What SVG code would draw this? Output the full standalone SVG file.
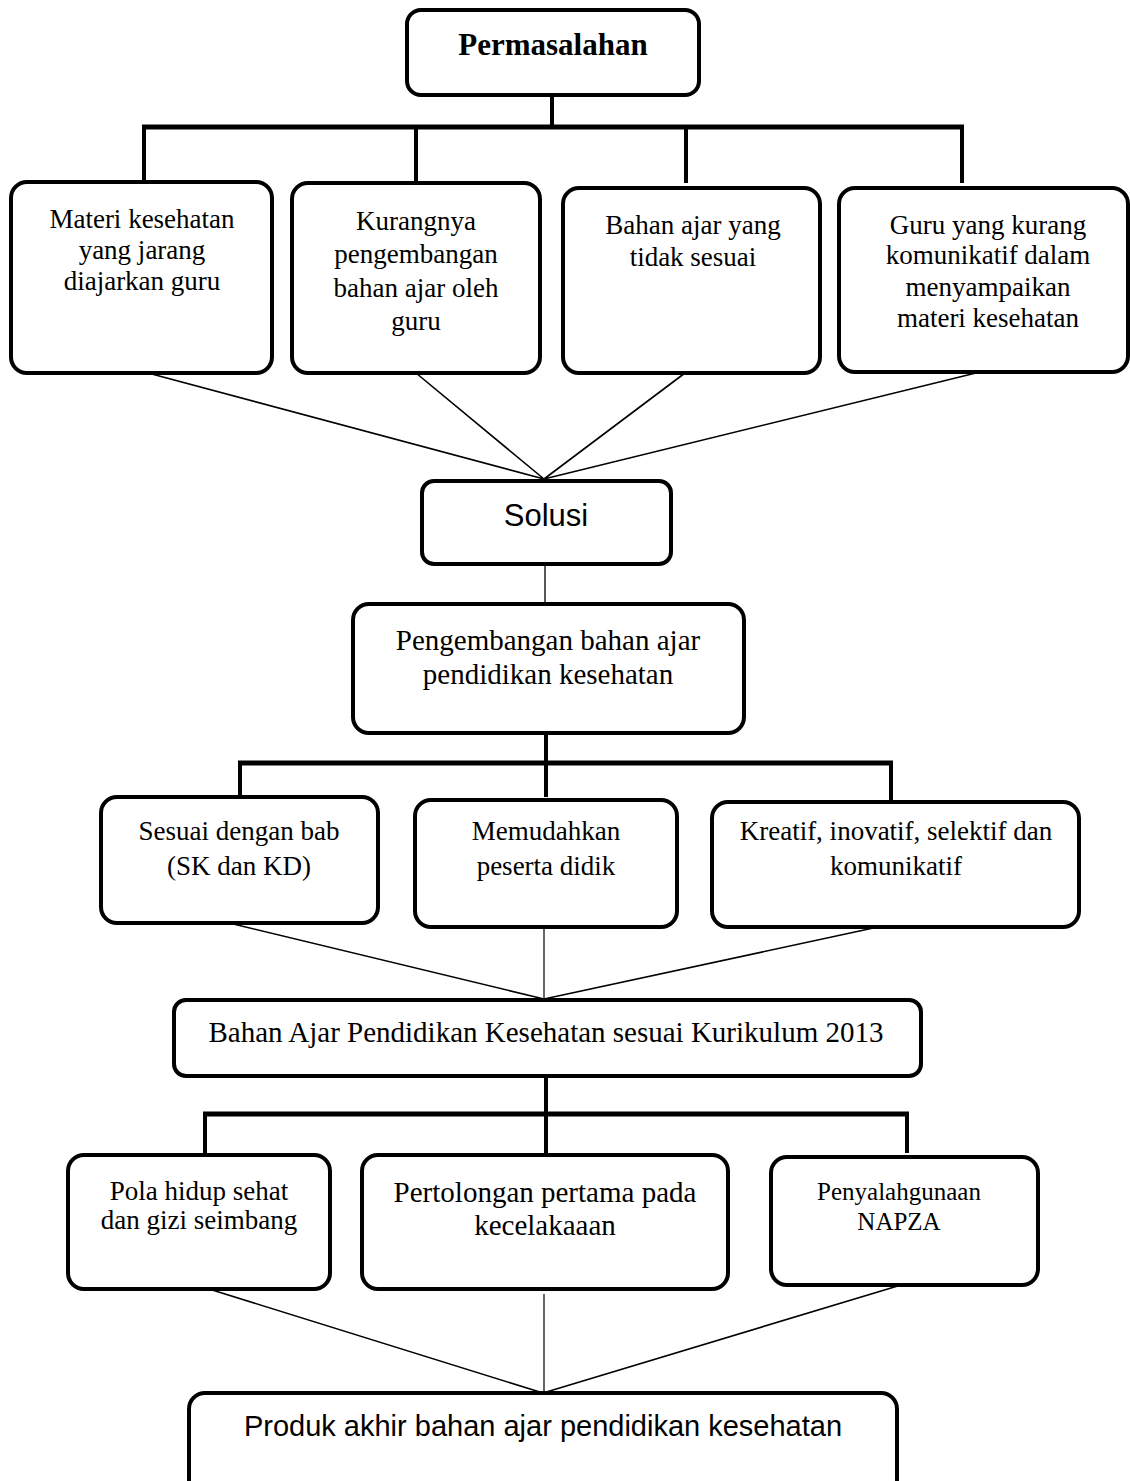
<svg xmlns="http://www.w3.org/2000/svg" width="1130" height="1481" viewBox="0 0 1130 1481">
<style>
.box{fill:#fff;stroke:#000;stroke-width:4}
.t{font-family:"Liberation Serif","Times New Roman",serif;font-size:27px;fill:#000;text-anchor:middle}
.t29{font-size:29px}
.t25{font-size:25px}
.a{font-family:"Liberation Sans",Arial,sans-serif;font-size:29px;fill:#000;text-anchor:middle}
.bar{stroke:#000;stroke-width:5;fill:none}
.drop{stroke:#000;stroke-width:4;fill:none}
.thin{stroke:#000;stroke-width:1.6;fill:none}
</style>
<rect width="1130" height="1481" fill="#fff"/>
<g id="connectors">
<path class="drop" d="M552 95V127M144 127V182M416 127V183M686 127V183M962 127V183"/>
<path class="bar" d="M142 127H964"/>
<path class="thin" d="M148 373L544 479M416 373L544 479M685 373L544 479M980 372L544 479"/>
<path class="thin" d="M545 564V604" style="stroke-width:1.3"/>
<path class="drop" d="M546 733V763M240 763V802M546 763V797M891 763V806"/>
<path class="bar" d="M238 763H893"/>
<path class="thin" d="M229 923L544 999M878 927L544 999"/>
<path class="thin" d="M544 927V999" style="stroke-width:1.2"/>
<path class="drop" d="M546 1076V1114M205 1114V1153M546 1114V1153M907 1114V1153"/>
<path class="bar" d="M203 1114H909"/>
<path class="thin" d="M209 1289L543 1393M901 1285L543 1393"/>
<path class="thin" d="M544 1294V1393" style="stroke-width:1.2"/>
</g>
<g id="permasalahan">
<rect class="box" x="407" y="10" width="292" height="85" rx="14"/>
<text class="t" x="553" y="55" style="font-weight:bold;font-size:31px">Permasalahan</text>
</g>
<g id="p1">
<rect class="box" x="11" y="182" width="261" height="191" rx="16"/>
<text class="t" x="142" y="228">Materi kesehatan</text>
<text class="t" x="142" y="259">yang jarang</text>
<text class="t" x="142" y="290">diajarkan guru</text>
</g>
<g id="p2">
<rect class="box" x="292" y="183" width="248" height="190" rx="16"/>
<text class="t" x="416" y="230">Kurangnya</text>
<text class="t" x="416" y="263">pengembangan</text>
<text class="t" x="416" y="297">bahan ajar oleh</text>
<text class="t" x="416" y="330">guru</text>
</g>
<g id="p3">
<rect class="box" x="563" y="188" width="257" height="185" rx="16"/>
<text class="t" x="693" y="234">Bahan ajar yang</text>
<text class="t" x="693" y="266">tidak sesuai</text>
</g>
<g id="p4">
<rect class="box" x="839" y="188" width="289" height="184" rx="16"/>
<text class="t" x="988" y="234">Guru yang kurang</text>
<text class="t" x="988" y="264">komunikatif dalam</text>
<text class="t" x="988" y="296">menyampaikan</text>
<text class="t" x="988" y="327">materi kesehatan</text>
</g>
<g id="solusi">
<rect class="box" x="422" y="481" width="249" height="83" rx="12"/>
<text class="a" x="546" y="526" style="font-size:31px">Solusi</text>
</g>
<g id="pengembangan">
<rect class="box" x="353" y="604" width="391" height="129" rx="16"/>
<text class="t t29" x="548" y="650">Pengembangan bahan ajar</text>
<text class="t t29" x="548" y="684">pendidikan kesehatan</text>
</g>
<g id="s1">
<rect class="box" x="101" y="797" width="277" height="126" rx="16"/>
<text class="t" x="239" y="840">Sesuai dengan bab</text>
<text class="t" x="239" y="875">(SK dan KD)</text>
</g>
<g id="s2">
<rect class="box" x="415" y="800" width="262" height="127" rx="16"/>
<text class="t" x="546" y="840">Memudahkan</text>
<text class="t" x="546" y="875">peserta didik</text>
</g>
<g id="s3">
<rect class="box" x="712" y="802" width="367" height="125" rx="16"/>
<text class="t" x="896" y="840">Kreatif, inovatif, selektif dan</text>
<text class="t" x="896" y="875">komunikatif</text>
</g>
<g id="bahan">
<rect class="box" x="174" y="1000" width="747" height="76" rx="12"/>
<text class="t t29" x="546" y="1042">Bahan Ajar Pendidikan Kesehatan sesuai Kurikulum 2013</text>
</g>
<g id="k1">
<rect class="box" x="68" y="1155" width="262" height="134" rx="16"/>
<text class="t" x="199" y="1200">Pola hidup sehat</text>
<text class="t" x="199" y="1229">dan gizi seimbang</text>
</g>
<g id="k2">
<rect class="box" x="362" y="1155" width="366" height="134" rx="16"/>
<text class="t t29" x="545" y="1202">Pertolongan pertama pada</text>
<text class="t t29" x="545" y="1235">kecelakaaan</text>
</g>
<g id="k3">
<rect class="box" x="771" y="1157" width="267" height="128" rx="16"/>
<text class="t t25" x="899" y="1200">Penyalahgunaan</text>
<text class="t t25" x="899" y="1230">NAPZA</text>
</g>
<g id="produk">
<rect class="box" x="189" y="1393" width="708" height="110" rx="16"/>
<text class="a" x="543" y="1436">Produk akhir bahan ajar pendidikan kesehatan</text>
</g>
</svg>
